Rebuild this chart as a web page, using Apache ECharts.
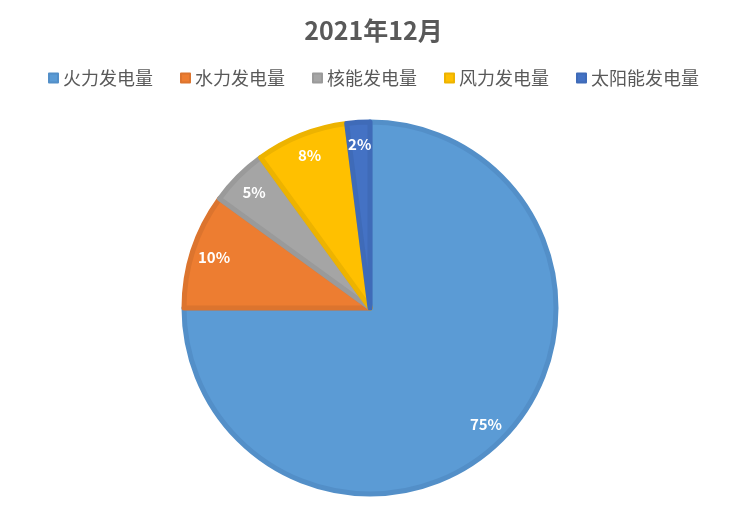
<!DOCTYPE html>
<html>
<head>
<meta charset="utf-8">
<script src="https://cdn.jsdelivr.net/npm/echarts@6/dist/echarts.min.js"></script>
<style>
html,body{margin:0;padding:0;background:#fff;}
#chart{width:747px;height:508px;}
</style>
</head>
<body>
<div id="chart"></div>
<script>
var titleText = '2021年12月';
var categories = ['火力发电量', '水力发电量', '核能发电量', '风力发电量', '太阳能发电量'];
var values = [75, 10, 5, 8, 2];
var fillColors = ['#5B9BD5', '#ED7D31', '#A5A5A5', '#FFC000', '#4472C4'];
var borderColors = ['#538FC8', '#DC742E', '#9A9A9A', '#EDB300', '#3F6BB8'];

var font = '"Noto Sans CJK SC", "Microsoft YaHei", sans-serif';

var mainData = categories.map(function (c, i) {
  return {
    name: c,
    value: values[i],
    itemStyle: { color: fillColors[i], borderColor: borderColors[i] }
  };
});
var labelData = categories.map(function (c, i) {
  return { name: c, value: values[i] };
});

var chart = echarts.init(document.getElementById('chart'));
chart.setOption({
  animation: false,
  backgroundColor: '#ffffff',
  title: {
    text: titleText,
    left: 'center',
    top: 13,
    textStyle: { fontFamily: font, fontSize: 25, fontWeight: 'bold', color: '#595959' }
  },
  legend: {
    top: 64,
    left: 'center',
    icon: 'rect',
    itemWidth: 9,
    itemHeight: 9,
    itemGap: 27,
    textStyle: { fontFamily: font, fontSize: 18, color: '#595959' },
    data: categories.map(function (c, i) {
      return { name: c, itemStyle: { color: fillColors[i] } };
    })
  },
  series: [
    {
      type: 'pie',
      center: [370, 308],
      radius: 186,
      startAngle: 90,
      clockwise: true,
      silent: true,
      label: { show: false },
      labelLine: { show: false },
      itemStyle: { borderWidth: 5 },
      data: mainData
    },
    {
      type: 'pie',
      center: [370, 308],
      radius: [134, 188],
      startAngle: 90,
      clockwise: true,
      silent: true,
      itemStyle: { color: 'rgba(0,0,0,0)', borderWidth: 0 },
      label: {
        show: true,
        position: 'inside',
        formatter: '{d}%',
        fontFamily: font,
        fontSize: 15,
        fontWeight: 'bold',
        color: '#ffffff'
      },
      labelLine: { show: false },
      data: labelData
    }
  ]
});
</script>
</body>
</html>
